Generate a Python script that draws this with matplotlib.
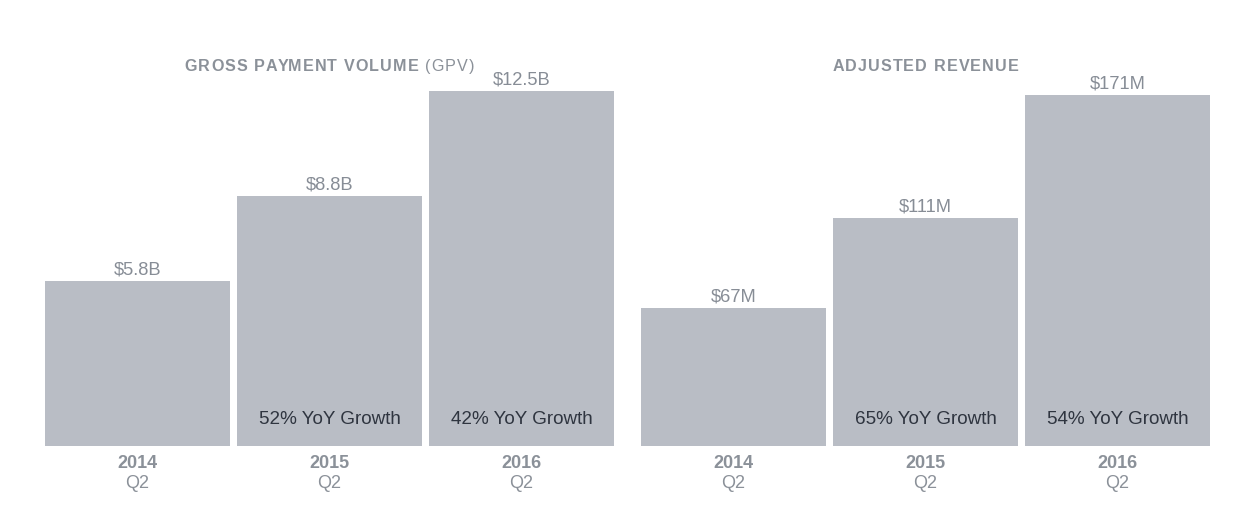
import matplotlib.pyplot as plt

plt.rcParams["font.family"] = ["Liberation Sans", "DejaVu Sans"]

# ---------------------------------------------------------------------------
# Data
# ---------------------------------------------------------------------------
years = ["2014", "2015", "2016"]
quarter = "Q2"

gpv_values = [5.8, 8.8, 12.5]          # $B
gpv_labels = ["$5.8B", "$8.8B", "$12.5B"]
gpv_growth = ["", "52% YoY Growth", "42% YoY Growth"]

rev_values = [67, 111, 171]            # $M
rev_labels = ["$67M", "$111M", "$171M"]
rev_growth = ["", "65% YoY Growth", "54% YoY Growth"]

BAR = "#b9bdc5"
VALUE = "#878d96"
TITLE = "#8b9199"
DARK = "#2f3540"

W, H = 1250, 527
fig = plt.figure(figsize=(W / 100, H / 100), dpi=100)
renderer = fig.canvas.get_renderer()


def _width(s, size, weight):
    t = fig.text(0, 0, s, fontsize=size, fontweight=weight)
    w = t.get_window_extent(renderer).width
    t.remove()
    return w


def spaced_text(cx, cy, parts, size, spacing):
    """Draw letter-spaced text centred at (cx, cy) in pixels.

    parts: list of (string, weight). Positions come from prefix widths so
    kerning of the font is kept.
    """
    items = []
    offset = 0.0
    for s, weight in parts:
        for i, ch in enumerate(s):
            items.append((offset + _width("|" + s[:i] + "|", size, weight)
                          - _width("||", size, weight), ch, weight))
        offset += _width("|" + s + "|", size, weight) - _width("||", size, weight)
    n = len(items)
    total = offset + spacing * (n - 1)
    x0 = cx - total / 2
    for k, (pos, ch, weight) in enumerate(items):
        if ch == " ":
            continue
        fig.text((x0 + pos + spacing * k) / W, 1 - cy / H, ch, fontsize=size,
                 fontweight=weight, color=TITLE, ha="left", va="center")


def panel(left_px, px_per_unit, values, labels, growth, title_parts):
    slot = 192
    width_px = 3 * slot
    bottom_px = 446
    top_px = 20
    height_px = bottom_px - top_px
    ax = fig.add_axes([left_px / W, (H - bottom_px) / H, width_px / W, height_px / H])
    x = range(len(values))
    bars = ax.bar(x, values, width=185 / slot, color=BAR)
    ax.set_xlim(-0.5, 2.5)
    ax.set_ylim(0, height_px / px_per_unit)
    ax.axis("off")

    for b, lab, g in zip(bars, labels, growth):
        cx = b.get_x() + b.get_width() / 2
        ax.annotate(lab, (cx, b.get_height()), xytext=(0, 2), textcoords="offset points",
                    ha="center", va="bottom", fontsize=13.2, color=VALUE)
        if g:
            ax.annotate(g, (cx, 0), xytext=(0, 26), textcoords="offset pixels",
                        ha="center", va="center", fontsize=13.6, color=DARK)

    for i, yr in enumerate(years):
        ax.annotate(yr, (i, 0), xytext=(0, -18), textcoords="offset pixels",
                    ha="center", va="center", fontsize=13, fontweight="bold", color=TITLE)
        ax.annotate(quarter, (i, 0), xytext=(0, -37.5), textcoords="offset pixels",
                    ha="center", va="center", fontsize=13, color=TITLE)

    spaced_text(left_px + width_px / 2, 66.5, title_parts, 11.6, 1.1)


panel(41.5, 355 / 12.5, gpv_values, gpv_labels, gpv_growth,
      [("GROSS PAYMENT VOLUME ", "bold"), ("(GPV)", "normal")])
panel(637.5, 351 / 171, rev_values, rev_labels, rev_growth,
      [("ADJUSTED REVENUE", "bold")])

fig.savefig("out.png", dpi=100)
